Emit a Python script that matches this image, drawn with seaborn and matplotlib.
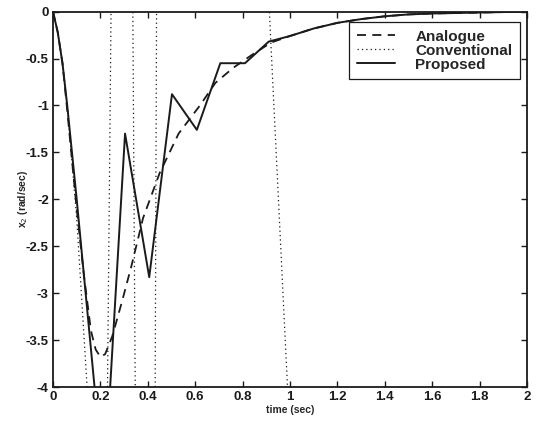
import numpy as np
import pandas as pd
import matplotlib
matplotlib.use("Agg")
import matplotlib.pyplot as plt
from matplotlib.ticker import FuncFormatter
import seaborn as sns

# ---- data ----
t_analogue = [0, 0.02, 0.04, 0.06, 0.08, 0.10, 0.13, 0.16, 0.18, 0.20, 0.22, 0.25,
              0.29, 0.33, 0.38, 0.45, 0.53, 0.62, 0.685, 0.76, 0.84, 0.92, 1.0,
              1.1, 1.2, 1.3, 1.4, 1.5, 1.6, 1.8, 2.0]
y_analogue = [0, -0.22, -0.55, -1.05, -1.58, -2.1, -2.8, -3.4, -3.6, -3.68, -3.65, -3.46,
              -3.1, -2.72, -2.2, -1.72, -1.3, -1.0, -0.76, -0.6, -0.46, -0.33, -0.26,
              -0.18, -0.12, -0.08, -0.05, -0.03, -0.02, -0.01, 0.0]

t_conventional = [0, 0.02, 0.04, 0.06, 0.1, 0.2185, 0.3, 0.4, 0.5, 0.8, 1.2, 2.0]
y_conventional = [0, -0.22, -0.55, -1.0, -2.2, -7.06, 14.7, -25.2, 43.0, 5.9, -15.0, -40.0]

t_proposed = [0, 0.02, 0.04, 0.06, 0.10, 0.216, 0.304, 0.406, 0.502, 0.607, 0.706, 0.81,
              0.91, 1.0, 1.1, 1.2, 1.3, 1.4, 1.5, 1.6, 1.8, 2.0]
y_proposed = [0, -0.22, -0.55, -1.0, -2.0, -5.08, -1.30, -2.83, -0.88, -1.26, -0.55, -0.55,
              -0.32, -0.26, -0.18, -0.12, -0.08, -0.05, -0.03, -0.02, -0.01, 0.0]

series_names = ["Analogue", "Conventional", "Proposed"]
x_ticks = [0, 0.2, 0.4, 0.6, 0.8, 1, 1.2, 1.4, 1.6, 1.8, 2]
y_ticks = [0, -0.5, -1, -1.5, -2, -2.5, -3, -3.5, -4]

sns.set_theme(style="ticks")
plt.rcParams["font.family"] = ["Liberation Sans", "DejaVu Sans"]
plt.rcParams["axes.unicode_minus"] = False

fig = plt.figure(figsize=(5.36, 4.21), dpi=100)
ax = fig.add_axes([53 / 536, 1 - 387 / 421, (527 - 53) / 536, (387 - 11.6) / 421])

sns.lineplot(x=t_analogue, y=y_analogue, ax=ax, color="k", lw=1.3,
             linestyle=(0, (5, 3.5)), label=series_names[0], sort=False)
sns.lineplot(x=t_conventional, y=y_conventional, ax=ax, color="k", lw=0.9,
             linestyle=(0, (1, 2.5)), label=series_names[1], sort=False)
sns.lineplot(x=t_proposed, y=y_proposed, ax=ax, color="k", lw=1.4,
             linestyle="-", label=series_names[2], sort=False)

ax.set_xlim(0, 2)
ax.set_ylim(-4, 0)
ax.set_xticks(x_ticks)
ax.set_yticks(y_ticks)
fmt = FuncFormatter(lambda v, p: "%g" % v)
ax.xaxis.set_major_formatter(fmt)
ax.yaxis.set_major_formatter(fmt)
ax.tick_params(direction="in", length=4, width=1, top=True, right=True,
               labelsize=9.5, pad=3, colors="k")
for lab in ax.get_xticklabels() + ax.get_yticklabels():
    lab.set_fontweight("bold")
for s in ax.spines.values():
    s.set_linewidth(1.3)
    s.set_color("k")

ax.set_xlabel("time (sec)", fontsize=7.5, fontweight="bold", labelpad=1)
ax.set_ylabel(r"x$_2$ (rad/sec)", fontsize=7.5, fontweight="bold")
ax.yaxis.set_label_coords(-0.048, 0.5)

leg = ax.legend(loc="upper right", bbox_to_anchor=(0.985, 0.972), borderaxespad=0,
                frameon=True, fancybox=False, edgecolor="k", framealpha=1,
                prop={"weight": "bold", "size": 11}, handlelength=2.5,
                labelspacing=0.0, borderpad=0.5, handletextpad=1.3)
leg.get_frame().set_linewidth(0.9)

fig.savefig("out.png", dpi=100)
